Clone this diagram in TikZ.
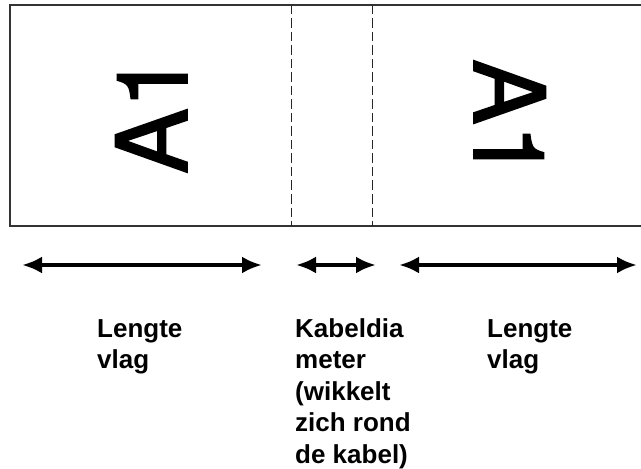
\documentclass[tikz,border=0pt]{standalone}
\usepackage{fontspec}
\setmainfont{Liberation Sans}
\newfontfamily\heros[FakeBold=1.8]{TeX Gyre Heros}
\usetikzlibrary{arrows.meta}
\begin{document}
\begin{tikzpicture}[x=1bp,y=-1bp,
  frame/.style={draw=black!80,line width=1.6bp},
  cut/.style={draw=black!85,line width=1bp,dash pattern=on 9.5bp off 4bp},
  big/.style={inner sep=0pt,font=\heros\fontsize{98bp}{98bp}\selectfont},
  dim/.style={line width=4.2bp,{Latex[length=20bp,width=17bp]}-{Latex[length=20bp,width=17bp]}},
  lbl/.style={inner sep=0pt,anchor=base west,align=left,font=\fontsize{26bp}{31.5bp}\selectfont\bfseries}]
\useasboundingbox (0,0) rectangle (641,469);
\draw[frame] (645,5) -- (10,5) -- (10,226) -- (645,226);
\coordinate (d1t) at (291,5); \coordinate (d1b) at (291,226);
\coordinate (d2t) at (372,5); \coordinate (d2b) at (372,226);
\draw[cut] (d1t) -- (d1b);
\draw[cut] (d2t) -- (d2b);
\node[big,rotate=90,anchor=base west] (leftA) at (187,174) {A1};
\node[big,rotate=-90,anchor=base west] (rightA) at (474,59) {A1};
\coordinate (a1l) at (22,265); \coordinate (a1r) at (262,265);
\coordinate (a2l) at (296,265); \coordinate (a2r) at (376,265);
\coordinate (a3l) at (399,265); \coordinate (a3r) at (637,265);
\draw[dim] (a1l) -- (a1r);
\draw[dim] (a2l) -- (a2r);
\draw[dim] (a3l) -- (a3r);
\node[lbl] (t1) at (97,368.5) {Lengte\\vlag};
\node[lbl] (t2) at (295,463) {Kabeldia\\meter\\(wikkelt\\zich rond\\de kabel)};
\node[lbl] (t3) at (487,368.5) {Lengte\\vlag};
\end{tikzpicture}
\end{document}
